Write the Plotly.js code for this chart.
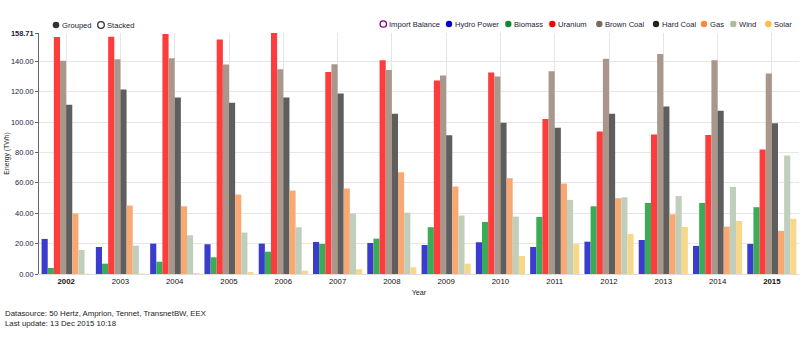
<!DOCTYPE html>
<html><head><meta charset="utf-8">
<script src="https://cdn.plot.ly/plotly-3.0.1.min.js"></script>
<style>html,body{margin:0;padding:0;background:#fff}#chart{width:806px;height:340px}</style>
</head><body><div id="chart"></div>
<script>
const years = ['2002','2003','2004','2005','2006','2007','2008','2009','2010','2011','2012','2013','2014','2015'];
const yearLabels = ['<b>2002</b>','2003','2004','2005','2006','2007','2008','2009','2010','2011','2012','2013','2014','<b>2015</b>'];
const seriesNames = ['Hydro Power','Biomass','Uranium','Brown Coal','Hard Coal','Gas','Wind','Solar'];
const hydro   = [23.1,17.8,20.0,19.6,20.0,21.1,20.4,19.1,20.9,17.8,21.3,22.4,18.5,19.8];
const biomass = [4.0,6.8,8.1,11.0,14.7,19.8,23.3,30.8,34.3,37.6,44.6,46.8,46.8,44.0];
const uranium = [156.0,156.3,158.0,154.5,158.71,133.0,140.7,127.5,132.7,102.0,93.8,91.9,91.6,82.0];
const brownCoal = [140.4,141.5,142.0,138.0,134.9,138.2,134.3,130.8,130.1,133.6,141.8,144.8,140.7,132.1];
const hardCoal  = [111.4,121.5,116.3,112.7,116.3,118.9,105.5,91.4,99.6,96.3,105.5,110.3,107.5,99.3];
const gas     = [39.8,45.1,44.6,52.3,54.9,56.3,67.0,57.6,63.1,59.6,49.9,39.3,31.2,28.4];
const wind    = [15.8,18.7,25.5,27.3,30.8,39.8,40.4,38.5,37.8,48.8,50.5,51.4,57.4,78.0];
const solar   = [0.2,0.3,0.6,1.3,2.2,3.1,4.4,6.8,11.9,19.6,26.4,31.0,34.9,36.3];
const yTickVals = [0,20,40,60,80,100,120,140,158.71];
const yTickText = ['0.00','20.00','40.00','60.00','80.00','100.00','120.00','140.00','<b>158.71</b>'];
const legendNames = ['Import Balance','Hydro Power','Biomass','Uranium','Brown Coal','Hard Coal','Gas','Wind','Solar'];

const values = [hydro,biomass,uranium,brownCoal,hardCoal,gas,wind,solar];
const barColors = ['#3b3bcf','#3cab58','#fe3c3c','#a8978a','#5e5e5e','#f7a873','#c0cfbb','#f8d68a'];
const legendColors = ['#800080','#0000cc','#118833','#ff0000','#7a6a60','#222222','#ff8833','#aabba0','#ffbb44'];

const traces = values.map((v,i)=>({
  type:'bar', name:seriesNames[i], x:years, y:v,
  marker:{color:barColors[i], line:{width:0}},
  showlegend:false, hoverinfo:'x+y+name'
}));

const L=39, R=7, T=33, B=66, W=806, H=340;
const pw=W-L-R, ph=H-T-B;
const px=(x)=>(x-L)/pw, py=(y)=>(H-B-y)/ph;

const font='"Liberation Sans", Arial, sans-serif';
const annotations=[], shapes=[];
// legend items: circle centre x, text start x
const legCircleX=[383.3,449,508.3,552.3,599.3,656,704,733.3,768.3];
legendNames.forEach((n,i)=>{
  const cx=legCircleX[i];
  const open = i===0;
  shapes.push({type:'circle', xref:'paper', yref:'paper', xsizemode:'pixel', ysizemode:'pixel',
    xanchor:px(cx), yanchor:py(24), x0:-3.2, x1:3.2, y0:-3.2, y1:3.2,
    fillcolor: open?'rgba(0,0,0,0)':legendColors[i], line:{color:legendColors[i], width: open?1.3:0}});
  annotations.push({xref:'paper', yref:'paper', x:px(cx+4), y:py(24.3), xanchor:'left', yanchor:'middle',
    text:n, showarrow:false, font:{family:font, size:7.6, color:'#222233'}});
});
// Grouped / Stacked
[['Grouped',56,false],['Stacked',101,true]].forEach(([t,cx,open])=>{
  shapes.push({type:'circle', xref:'paper', yref:'paper', xsizemode:'pixel', ysizemode:'pixel',
    xanchor:px(cx), yanchor:py(25), x0:-3.3, x1:3.3, y0:-3.3, y1:3.3,
    fillcolor: open?'rgba(0,0,0,0)':'#333333', line:{color:'#333333', width: open?1.3:0}});
  annotations.push({xref:'paper', yref:'paper', x:px(cx+4), y:py(25.3), xanchor:'left', yanchor:'middle',
    text:t, showarrow:false, font:{family:font, size:7.6, color:'#222233'}});
});
annotations.push({xref:'paper', yref:'paper', x:px(3), y:py(313.5), xanchor:'left', yanchor:'middle',
  text:'Datasource: 50 Hertz, Amprion, Tennet, TransnetBW, EEX', showarrow:false, font:{family:font,size:7.8,color:'#222'}});
annotations.push({xref:'paper', yref:'paper', x:px(3), y:py(323.5), xanchor:'left', yanchor:'middle',
  text:'Last update: 13 Dec 2015 10:18', showarrow:false, font:{family:font,size:7.8,color:'#222'}});

const layout={
  width:W, height:H, margin:{l:L,r:R,t:T,b:B,pad:0},
  paper_bgcolor:'#fff', plot_bgcolor:'#fff',
  barmode:'group', bargap:0.095, bargroupgap:0,
  showlegend:false,
  font:{family:font, size:7.6, color:'#222233'},
  xaxis:{type:'category', tickvals:years, ticktext:yearLabels, showgrid:true, gridcolor:'#e6e6e6', gridwidth:1,
    showline:true, linecolor:'#dddddd', linewidth:1, ticks:'', tickfont:{size:7.8, color:'#111'},
    title:{text:'Year', font:{size:7.2, color:'#222'}, standoff:4}},
  yaxis:{range:[0,158.71], tickvals:yTickVals, ticktext:yTickText, showgrid:true, gridcolor:'#e6e6e6',
    zeroline:false, showline:true, linecolor:'#666', linewidth:1, ticks:'outside', ticklen:3, tickcolor:'#666',
    tickfont:{size:7.4, color:'#222244'},
    title:{text:'Energy (TWh)', font:{size:6.8, color:'#222'}, standoff:0}},
  annotations, shapes
};
Plotly.newPlot('chart', traces, layout, {displayModeBar:false, staticPlot:true});
</script></body></html>
